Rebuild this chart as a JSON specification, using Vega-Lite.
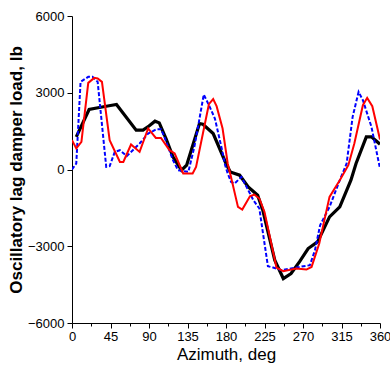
{
  "$schema": "https://vega.github.io/schema/vega-lite/v6.json",
  "width": 308,
  "height": 307,
  "autosize": "none",
  "padding": {"left": 72, "top": 16, "right": 10, "bottom": 42},
  "config": {
    "font": "Liberation Sans",
    "view": {"stroke": null},
    "axis": {"grid": false, "domainColor": "black", "tickColor": "black", "labelColor": "black", "titleColor": "black", "domainWidth": 1, "tickWidth": 1}
  },
  "data": {
    "values": [
      {"s": "black", "az": 5, "load": 1275}, {"s": "black", "az": 20, "load": 2346}, {"s": "black", "az": 32, "load": 2424}, {"s": "black", "az": 45, "load": 2500}, {"s": "black", "az": 52, "load": 2541}, {"s": "black", "az": 75, "load": 1537}, {"s": "black", "az": 83, "load": 1537}, {"s": "black", "az": 90, "load": 1700}, {"s": "black", "az": 97, "load": 1889}, {"s": "black", "az": 102, "load": 1822}, {"s": "black", "az": 110, "load": 1200}, {"s": "black", "az": 118, "load": 493}, {"s": "black", "az": 128, "load": -27}, {"s": "black", "az": 134, "load": 168}, {"s": "black", "az": 149, "load": 1798}, {"s": "black", "az": 153, "load": 1771}, {"s": "black", "az": 165, "load": 1407}, {"s": "black", "az": 180, "load": 235}, {"s": "black", "az": 185, "load": -94}, {"s": "black", "az": 196, "load": -223}, {"s": "black", "az": 206, "load": -680}, {"s": "black", "az": 217, "load": -1005}, {"s": "black", "az": 223, "load": -1591}, {"s": "black", "az": 237, "load": -3546}, {"s": "black", "az": 247, "load": -4262}, {"s": "black", "az": 256, "load": -4066}, {"s": "black", "az": 266, "load": -3600}, {"s": "black", "az": 276, "load": -3089}, {"s": "black", "az": 287, "load": -2831}, {"s": "black", "az": 301, "load": -1853}, {"s": "black", "az": 313, "load": -1462}, {"s": "black", "az": 326, "load": -418}, {"s": "black", "az": 332, "load": 235}, {"s": "black", "az": 344, "load": 1275}, {"s": "black", "az": 350, "load": 1275}, {"s": "black", "az": 360, "load": 989},
      {"s": "blue", "az": 0, "load": 0}, {"s": "blue", "az": 5, "load": 235}, {"s": "blue", "az": 10, "load": 3425}, {"s": "blue", "az": 19, "load": 3621}, {"s": "blue", "az": 24, "load": 3621}, {"s": "blue", "az": 30, "load": 3425}, {"s": "blue", "az": 40, "load": 102}, {"s": "blue", "az": 44, "load": 129}, {"s": "blue", "az": 50, "load": 688}, {"s": "blue", "az": 56, "load": 755}, {"s": "blue", "az": 64, "load": 520}, {"s": "blue", "az": 79, "load": 1017}, {"s": "blue", "az": 89, "load": 1407}, {"s": "blue", "az": 99, "load": 1576}, {"s": "blue", "az": 104, "load": 1576}, {"s": "blue", "az": 108, "load": 1275}, {"s": "blue", "az": 118, "load": 364}, {"s": "blue", "az": 124, "load": -27}, {"s": "blue", "az": 136, "load": -94}, {"s": "blue", "az": 143, "load": 884}, {"s": "blue", "az": 148, "load": 1798}, {"s": "blue", "az": 154, "load": 2932}, {"s": "blue", "az": 161, "load": 2448}, {"s": "blue", "az": 167, "load": 1994}, {"s": "blue", "az": 175, "load": 821}, {"s": "blue", "az": 179, "load": 168}, {"s": "blue", "az": 182, "load": -156}, {"s": "blue", "az": 186, "load": -485}, {"s": "blue", "az": 190, "load": -547}, {"s": "blue", "az": 198, "load": -289}, {"s": "blue", "az": 204, "load": -680}, {"s": "blue", "az": 212, "load": -1200}, {"s": "blue", "az": 219, "load": -1525}, {"s": "blue", "az": 223, "load": -2440}, {"s": "blue", "az": 229, "load": -3781}, {"s": "blue", "az": 235, "load": -3832}, {"s": "blue", "az": 245, "load": -3937}, {"s": "blue", "az": 266, "load": -3808}, {"s": "blue", "az": 278, "load": -3742}, {"s": "blue", "az": 284, "load": -3155}, {"s": "blue", "az": 290, "load": -2178}, {"s": "blue", "az": 301, "load": -1462}, {"s": "blue", "az": 313, "load": -418}, {"s": "blue", "az": 321, "load": 235}, {"s": "blue", "az": 328, "load": 2057}, {"s": "blue", "az": 335, "load": 3034}, {"s": "blue", "az": 340, "load": 2710}, {"s": "blue", "az": 350, "load": 1666}, {"s": "blue", "az": 360, "load": 39},
      {"s": "red", "az": 0, "load": 1150}, {"s": "red", "az": 5, "load": 821}, {"s": "red", "az": 11, "load": 1079}, {"s": "red", "az": 19, "load": 3386}, {"s": "red", "az": 26, "load": 3582}, {"s": "red", "az": 30, "load": 3558}, {"s": "red", "az": 35, "load": 3425}, {"s": "red", "az": 44, "load": 1146}, {"s": "red", "az": 56, "load": 297}, {"s": "red", "az": 60, "load": 297}, {"s": "red", "az": 69, "load": 978}, {"s": "red", "az": 79, "load": 688}, {"s": "red", "az": 89, "load": 1603}, {"s": "red", "az": 98, "load": 1236}, {"s": "red", "az": 104, "load": 1236}, {"s": "red", "az": 114, "load": 755}, {"s": "red", "az": 120, "load": 626}, {"s": "red", "az": 130, "load": -156}, {"s": "red", "az": 141, "load": -156}, {"s": "red", "az": 145, "load": 102}, {"s": "red", "az": 153, "load": 1407}, {"s": "red", "az": 160, "load": 2553}, {"s": "red", "az": 165, "load": 2749}, {"s": "red", "az": 169, "load": 2475}, {"s": "red", "az": 176, "load": 1603}, {"s": "red", "az": 182, "load": 235}, {"s": "red", "az": 184, "load": -27}, {"s": "red", "az": 194, "load": -1462}, {"s": "red", "az": 199, "load": -1564}, {"s": "red", "az": 208, "load": -1044}, {"s": "red", "az": 213, "load": -978}, {"s": "red", "az": 219, "load": -1134}, {"s": "red", "az": 225, "load": -1658}, {"s": "red", "az": 239, "load": -3832}, {"s": "red", "az": 247, "load": -3976}, {"s": "red", "az": 262, "load": -3871}, {"s": "red", "az": 274, "load": -3910}, {"s": "red", "az": 280, "load": -3808}, {"s": "red", "az": 289, "load": -2893}, {"s": "red", "az": 301, "load": -1071}, {"s": "red", "az": 307, "load": -743}, {"s": "red", "az": 313, "load": -418}, {"s": "red", "az": 323, "load": 168}, {"s": "red", "az": 330, "load": 1017}, {"s": "red", "az": 340, "load": 2514}, {"s": "red", "az": 345, "load": 2800}, {"s": "red", "az": 351, "load": 2475}, {"s": "red", "az": 360, "load": 1173}
    ]
  },
  "encoding": {
    "x": {
      "field": "az", "type": "quantitative",
      "scale": {"domain": [0, 360], "nice": false, "zero": false},
      "axis": {
        "title": "Azimuth, deg",
        "titleFont": "Liberation Sans", "titleFontSize": 17, "titleFontWeight": "normal", "titlePadding": 3,
        "values": [0, 22.5, 45, 67.5, 90, 112.5, 135, 157.5, 180, 202.5, 225, 247.5, 270, 292.5, 315, 337.5, 360],
        "labelExpr": "datum.value % 45 === 0 ? datum.label : ''",
        "tickSize": {"condition": {"test": "datum.value % 45 === 0", "value": 5}, "value": 3},
        "labelFontSize": 13, "labelPadding": 2, "labelOverlap": false, "labelFlush": false
      }
    },
    "y": {
      "field": "load", "type": "quantitative",
      "scale": {"domain": [-6000, 6000], "nice": false, "zero": false},
      "axis": {
        "title": "Oscillatory lag damper load, lb",
        "titleFontSize": 17, "titleFontWeight": "bold", "titlePadding": 2,
        "values": [-6000, -3000, 0, 3000, 6000],
        "format": "d",
        "tickSize": 5, "labelFontSize": 13, "labelPadding": 3
      }
    }
  },
  "layer": [
    {
      "transform": [{"filter": "datum.s === 'black'"}],
      "mark": {"type": "line", "color": "black", "strokeWidth": 3.2, "clip": true}
    },
    {
      "transform": [{"filter": "datum.s === 'blue'"}],
      "mark": {"type": "line", "color": "#0000ff", "strokeWidth": 2, "strokeDash": [4, 2], "clip": true}
    },
    {
      "transform": [{"filter": "datum.s === 'red'"}],
      "mark": {"type": "line", "color": "#ff0000", "strokeWidth": 2, "clip": true}
    }
  ]
}
